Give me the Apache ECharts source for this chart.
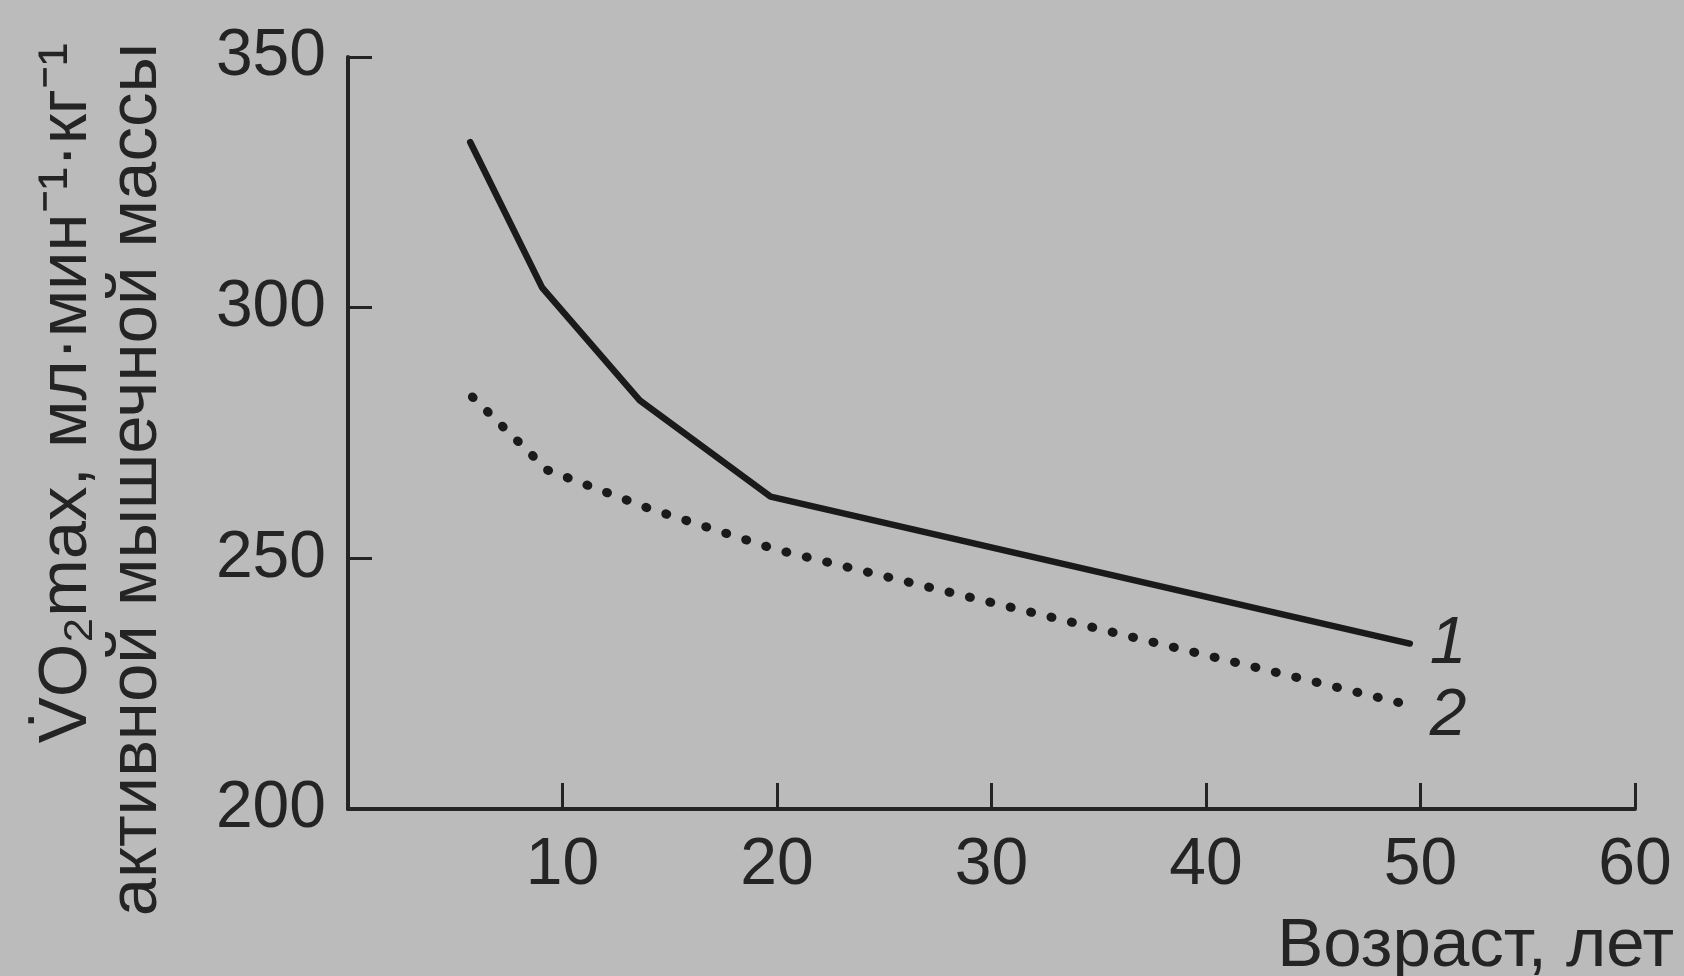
<!DOCTYPE html>
<html>
<head>
<meta charset="utf-8">
<script src="https://cdn.jsdelivr.net/npm/echarts@6/dist/echarts.min.js"></script>
<style>
html,body{margin:0;padding:0;background:#bababa;}
#chart{width:1684px;height:976px;}
</style>
</head>
<body>
<div id="chart"></div>
<script>
// Data
const ages1 = [5.7, 9.05, 13.6, 19.7, 49.5];
const vo2Line1 = [333, 304, 281.5, 262.3, 233];
const ages2 = [5.8, 9.3, 14, 20, 49.5];
const vo2Line2 = [282.2, 267.6, 260, 251.7, 220.7];
const seriesLabels = ['1', '2'];
const xTitle = 'Возраст, лет';
const yTitleLine1 = 'V\u0307O\u2082max, мл·мин\u207B\u00B9·кг\u207B\u00B9';
const yTitleLine2 = 'активной мышечной массы';

const FONT = "'Liberation Sans', Arial, Helvetica, sans-serif";
const INK = '#242424';
const FS = 66;
const FS_TITLE = 69;

const chart = echarts.init(document.getElementById('chart'), null, {renderer: 'canvas'});
const toPairs = (xs, ys) => xs.map((x, i) => [x, ys[i]]);

chart.setOption({
  backgroundColor: '#bbbbbb',
  animation: false,
  grid: {left: 348, right: 49, top: 57, bottom: 167, containLabel: false},
  xAxis: {
    type: 'value', min: 0, max: 60, interval: 10,
    axisLine: {show: true, onZero: false, lineStyle: {color: INK, width: 4}},
    axisTick: {show: true, inside: true, length: 26, lineStyle: {color: INK, width: 3}},
    axisLabel: {showMinLabel: false, color: INK, fontSize: FS, fontFamily: FONT, margin: 24},
    splitLine: {show: false}
  },
  yAxis: {
    type: 'value', min: 200, max: 350, interval: 50,
    axisLine: {show: true, lineStyle: {color: INK, width: 4}},
    axisTick: {show: true, inside: true, length: 24, lineStyle: {color: INK, width: 3}},
    axisLabel: {color: INK, fontSize: FS, fontFamily: FONT, margin: 22},
    splitLine: {show: false}
  },
  series: [
    {
      type: 'line', name: seriesLabels[0], data: toPairs(ages1, vo2Line1),
      showSymbol: false, smooth: false,
      lineStyle: {color: '#1a1a1a', width: 6.5, cap: 'round', join: 'round'},
      endLabel: {show: true, formatter: seriesLabels[0], fontStyle: 'italic', fontSize: FS,
        fontFamily: FONT, color: INK, distance: 20, offset: [0, 1]}
    },
    {
      type: 'line', name: seriesLabels[1], data: toPairs(ages2, vo2Line2),
      showSymbol: false, smooth: false,
      lineStyle: {color: '#1a1a1a', width: 9, type: [1, 20], cap: 'round', join: 'round'},
      endLabel: {show: true, formatter: seriesLabels[1], fontStyle: 'italic', fontSize: FS,
        fontFamily: FONT, color: INK, distance: 20, offset: [0, 11]}
    }
  ],
  graphic: [
    {
      type: 'text', x: 1674, y: 947,
      style: {text: xTitle, font: FS_TITLE + 'px ' + FONT, fill: INK, align: 'right', verticalAlign: 'middle'}
    },
    {
      type: 'text', x: 102, y: 43, rotation: Math.PI / 2,
      style: {text: yTitleLine1 + '\n' + yTitleLine2, font: FS_TITLE + 'px ' + FONT, fill: INK,
        align: 'right', verticalAlign: 'middle', lineHeight: 70}
    }
  ]
});
</script>
</body>
</html>
